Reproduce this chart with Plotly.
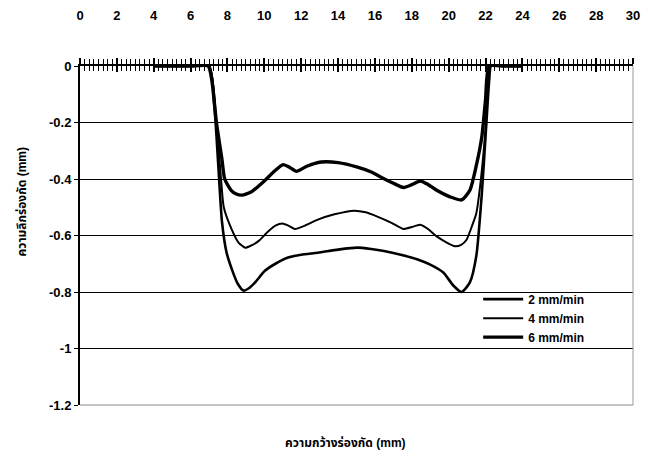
import plotly.graph_objects as go

# ---- data ----
x_tick_vals = list(range(0, 31, 2))
x_tick_text = [str(v) for v in x_tick_vals]
y_tick_vals = [0, -0.2, -0.4, -0.6, -0.8, -1.0, -1.2]
y_tick_text = ["0", "-0.2", "-0.4", "-0.6", "-0.8", "-1", "-1.2"]

series_names = ["2 mm/min", "4 mm/min", "6 mm/min"]

x_2 = [4, 5, 6, 7.0, 7.3, 7.5, 7.7, 7.95, 8.24, 8.55, 8.87, 9.2, 9.5, 10.03, 10.6, 11.29, 12.0,
       12.9, 14.0, 15.05, 15.8, 16.49, 17.4, 18.28, 19.0, 19.71, 20.25, 20.7, 21.15, 21.5, 21.8,
       22.0, 22.2, 22.3, 23, 24]
d_2 = [0, 0, 0, 0, -0.15, -0.35, -0.55, -0.66, -0.72, -0.77, -0.795, -0.785, -0.766, -0.725, -0.7,
       -0.678, -0.668, -0.661, -0.65, -0.643, -0.648, -0.655, -0.668, -0.684, -0.703, -0.731, -0.777,
       -0.8, -0.766, -0.672, -0.45, -0.25, -0.05, 0, 0, 0]

x_4 = [4, 5, 6, 7.0, 7.4, 7.65, 7.8, 8.24, 8.6, 8.96, 9.3, 9.68, 10.22, 10.6, 11.02, 11.3, 11.65,
       12.2, 12.9, 13.8, 14.87, 15.5, 16.13, 16.9, 17.56, 18.0, 18.46, 18.9, 19.35, 19.9, 20.34,
       20.7, 20.97, 21.3, 21.5, 21.75, 22.0, 22.15, 22.25, 23, 24]
d_4 = [0, 0, 0, 0, -0.2, -0.4, -0.5, -0.58, -0.625, -0.643, -0.635, -0.62, -0.585, -0.565, -0.558,
       -0.565, -0.577, -0.565, -0.544, -0.525, -0.512, -0.518, -0.533, -0.555, -0.577, -0.57, -0.562,
       -0.578, -0.603, -0.625, -0.638, -0.632, -0.615, -0.56, -0.521, -0.4, -0.22, -0.05, 0, 0, 0]

x_6 = [4, 5, 6, 6.95, 7.15, 7.4, 7.7, 7.85, 8.2, 8.45, 8.78, 9.3, 10.03, 10.5, 11.02, 11.4, 11.74,
       12.3, 13.08, 14.0, 15.05, 15.8, 16.49, 17.0, 17.56, 18.0, 18.46, 18.9, 19.35, 20.07, 20.7,
       21.15, 21.5, 21.8, 22.0, 22.2, 23, 24]
d_6 = [0, 0, 0, 0, -0.05, -0.2, -0.33, -0.4, -0.44, -0.452, -0.457, -0.445, -0.405, -0.375, -0.349,
       -0.36, -0.373, -0.355, -0.34, -0.342, -0.358, -0.375, -0.399, -0.415, -0.43, -0.42, -0.407,
       -0.42, -0.44, -0.463, -0.474, -0.44, -0.352, -0.25, -0.12, 0, 0, 0]

FONT = "Liberation Sans, Arial, Noto Sans Thai, Noto Sans, sans-serif"

fig = go.Figure()
for name, xs, ys, w in [(series_names[0], x_2, d_2, 2.6),
                        (series_names[1], x_4, d_4, 2.0),
                        (series_names[2], x_6, d_6, 3.4)]:
    fig.add_trace(go.Scatter(x=xs, y=ys, mode="lines", name=name,
                             line=dict(color="black", width=w, shape="spline", smoothing=0.6)))

# invisible trace to anchor secondary x axis (for crossing ticks)
fig.add_trace(go.Scatter(x=x_2, y=d_2, xaxis="x2", mode="lines", opacity=0,
                         showlegend=False, hoverinfo="skip"))

fig.update_layout(
    width=648, height=462,
    margin=dict(l=80, r=8, t=62, b=57),
    paper_bgcolor="white", plot_bgcolor="white",
    font=dict(family=FONT, color="black", size=12),
    showlegend=True,
    legend=dict(x=0.72, y=0.355, xanchor="left", yanchor="top",
                bgcolor="rgba(0,0,0,0)", borderwidth=0,
                font=dict(size=12, family=FONT, weight="bold"),
                tracegroupgap=0, itemwidth=40),
    xaxis=dict(range=[0, 30], side="top", tickmode="array", tickvals=x_tick_vals,
               ticktext=x_tick_text, showgrid=False, zeroline=False,
               showline=True, linecolor="black", linewidth=2,
               ticks="outside", ticklen=6, tickwidth=1.5, tickcolor="black",
               minor=dict(dtick=0.25, ticks="outside", ticklen=5, tickwidth=1.2, tickcolor="black"),
               ticklabelstandoff=33,
               tickfont=dict(size=13, family=FONT, weight="bold")),
    xaxis2=dict(range=[0, 30], overlaying="x", side="top", showticklabels=False,
                showgrid=False, zeroline=False, showline=False,
                tickmode="array", tickvals=x_tick_vals,
                ticks="inside", ticklen=6, tickwidth=1.5, tickcolor="black",
                minor=dict(dtick=0.25, ticks="inside", ticklen=5, tickwidth=1.2, tickcolor="black")),
    yaxis=dict(range=[-1.2, 0], tickmode="array", tickvals=y_tick_vals, ticktext=y_tick_text,
               showgrid=True, gridcolor="black", gridwidth=1, zeroline=False,
               showline=True, linecolor="black", linewidth=2,
               ticks="outside", ticklen=4, tickcolor="black",
               tickfont=dict(size=13, family=FONT, weight="bold")),
    annotations=[
        dict(text="ความลึกร่องกัด (mm)", xref="paper", yref="paper", x=-0.105, y=0.6,
             textangle=-90, showarrow=False, xanchor="center", yanchor="middle",
             font=dict(size=12, family=FONT, weight="bold")),
        dict(text="ความกว้างร่องกัด (mm)", xref="paper", yref="paper", x=0.48, y=-0.085,
             showarrow=False, xanchor="center", yanchor="top",
             font=dict(size=12, family=FONT, weight="bold")),
    ],
    shapes=[
        # white backing box behind legend (hides grid line like the reference)
        dict(type="rect", xref="paper", yref="paper", x0=0.72, x1=0.94, y0=0.18, y1=0.352,
             fillcolor="white", line=dict(width=0), layer="between"),
        dict(type="line", xref="paper", yref="paper", x0=0, x1=1, y0=0, y1=0,
             line=dict(color="#888888", width=1)),
        dict(type="line", xref="paper", yref="paper", x0=1, x1=1, y0=0, y1=1,
             line=dict(color="#999999", width=1)),
    ],
)

fig.write_html("out.html")
